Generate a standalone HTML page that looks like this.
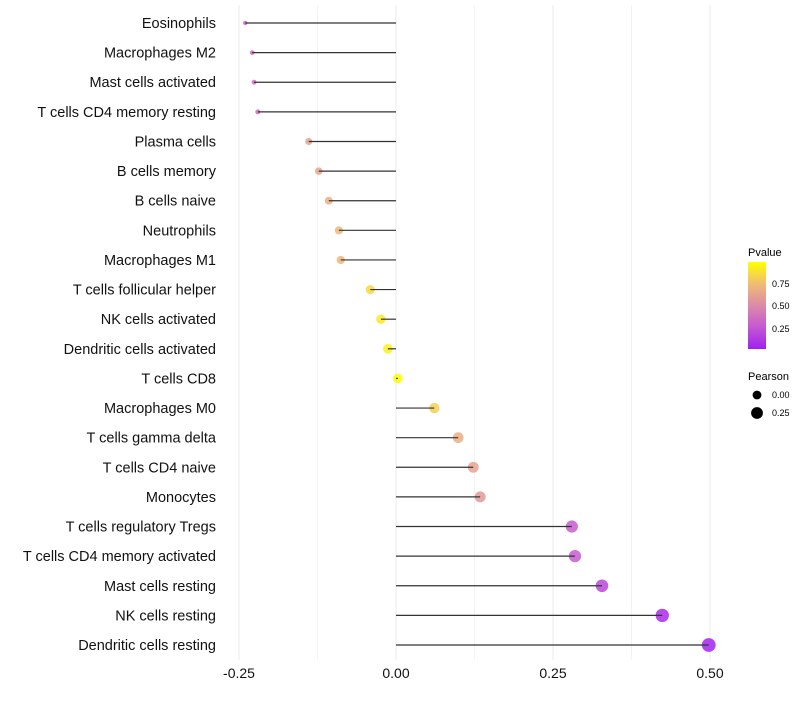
<!DOCTYPE html>
<html><head><meta charset="utf-8"><style>
body{margin:0;background:#fff;font-family:"Liberation Sans",sans-serif}
</style></head><body>
<svg id="chart" width="800" height="700" xmlns="http://www.w3.org/2000/svg">
<defs><linearGradient id="pg" x1="0" y1="1" x2="0" y2="0">
<stop offset="0" stop-color="#a020f0"/><stop offset="0.25" stop-color="#c458d2"/><stop offset="0.5" stop-color="#dc8aa8"/><stop offset="0.75" stop-color="#f0bc74"/><stop offset="1" stop-color="#ffff00"/></linearGradient></defs>
<g id="grid"></g>
<g id="marks"></g>
<g id="labels"></g>
<g id="xticks"></g>
<g font-size="9" fill="#000">
<text x="748" y="256" font-size="11">Pvalue</text>
<rect x="748" y="262" width="18" height="87" fill="url(#pg)"/>
<text x="772" y="287">0.75</text><text x="772" y="309">0.50</text><text x="772" y="332">0.25</text>
</g>
<g font-size="9" fill="#000">
<text x="748" y="380" font-size="11">Pearson</text>
<circle cx="757" cy="395" r="4.4" fill="#000"/><text x="772" y="398">0.00</text>
<circle cx="757" cy="413" r="5.9" fill="#000"/><text x="772" y="416">0.25</text>
</g>
</svg>
<script>
const cells=["Eosinophils","Macrophages M2","Mast cells activated","T cells CD4 memory resting","Plasma cells","B cells memory","B cells naive","Neutrophils","Macrophages M1","T cells follicular helper","NK cells activated","Dendritic cells activated","T cells CD8","Macrophages M0","T cells gamma delta","T cells CD4 naive","Monocytes","T cells regulatory  Tregs","T cells CD4 memory activated","Mast cells resting","NK cells resting","Dendritic cells resting"];
const pearson=[-0.240,-0.229,-0.226,-0.220,-0.139,-0.123,-0.107,-0.091,-0.088,-0.041,-0.024,-0.013,0.003,0.061,0.099,0.123,0.134,0.280,0.285,0.328,0.424,0.498];
const pvalue=[0.30,0.35,0.35,0.35,0.62,0.64,0.68,0.72,0.72,0.86,0.92,0.95,0.99,0.82,0.68,0.62,0.58,0.28,0.26,0.18,0.06,0.02];
const xTicks=[-0.25,0,0.25,0.5];
const xTickLabels=["-0.25","0.00","0.25","0.50"];
const NS="http://www.w3.org/2000/svg";
const x=v=>396+v*628;
const y=i=>23+i*(622/21);
const stops=[[0,[160,32,240]],[0.25,[196,88,210]],[0.5,[220,138,168]],[0.75,[240,188,116]],[1,[255,255,0]]];
function col(p){for(let k=1;k<stops.length;k++){if(p<=stops[k][0]){const a=stops[k-1],b=stops[k],t=(p-a[0])/(b[0]-a[0]);return 'rgb('+a[1].map((c,j)=>Math.round(c+(b[1][j]-c)*t)).join(',')+')';}}return 'rgb(255,255,0)';}
const r=v=>Math.max(1.6,Math.sqrt(Math.max(0,24+(v<0?80:48)*v)));
function mk(t,a,p){const e=document.createElementNS(NS,t);for(const k in a)e.setAttribute(k,a[k]);p.appendChild(e);return e;}
const grid=document.getElementById('grid');
for(let v=-0.25;v<=0.5001;v+=0.125){
 const g=mk('line',{x1:x(v),x2:x(v),y1:5,y2:660,stroke:Math.abs(v*8)%2<0.01?'#ebebeb':'#f3f3f3','stroke-width':1},grid);
 
 
}
const marks=document.getElementById('marks'),labels=document.getElementById('labels');
cells.forEach((c,i)=>{
 const pt=mk('circle',{cx:x(pearson[i]),cy:y(i),r:r(pearson[i]),fill:col(pvalue[i]),'fill-opacity':0.85},marks);
 
 
 const ln=mk('line',{x1:x(0),x2:x(pearson[i]),y1:y(i),y2:y(i),stroke:'#333','stroke-width':1.2},marks);
 
 
 const tx=mk('text',{x:216,y:y(i)+5,'text-anchor':'end','font-size':14.5,fill:'#111'},labels);
 tx.textContent=c;
 
 
});
const xt=document.getElementById('xticks');
xTicks.forEach((v,i)=>{
 const t=mk('text',{x:x(v),y:678,'text-anchor':'middle','font-size':14,fill:'#111'},xt);
 t.textContent=xTickLabels[i];
 
 
});
</script>
</body></html>
